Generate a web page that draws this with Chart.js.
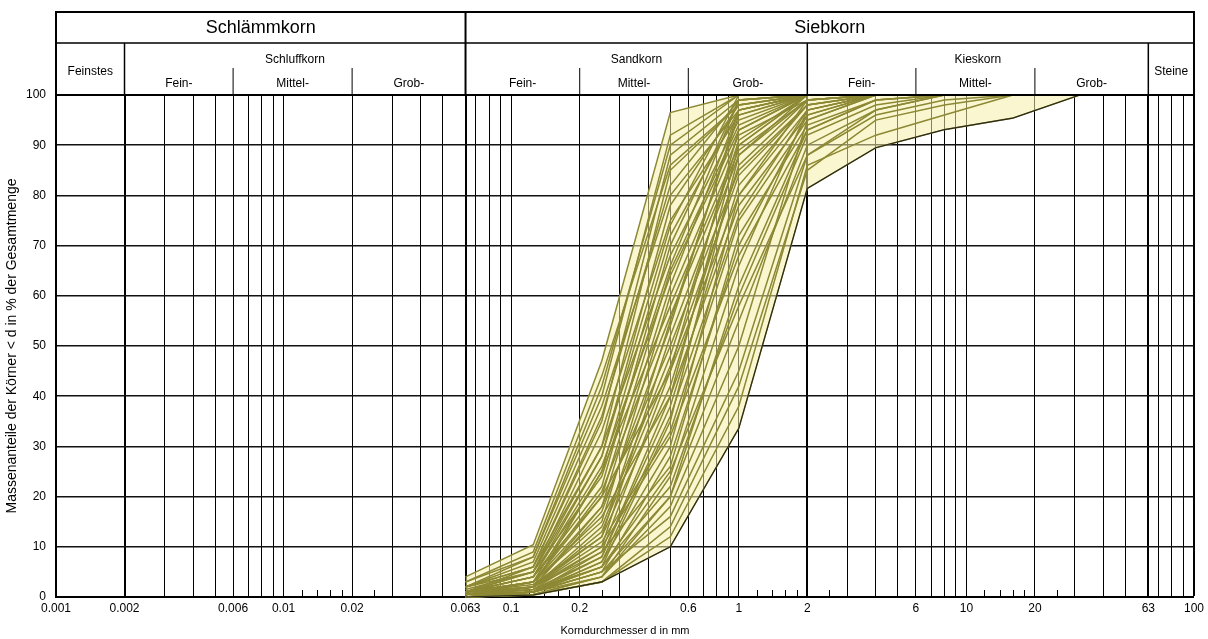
<!DOCTYPE html>
<html>
<head>
<meta charset="utf-8">
<script src="https://cdn.jsdelivr.net/npm/chart.js@4.4.1/dist/chart.umd.min.js"></script>
<style>
  html, body { margin: 0; padding: 0; background: #fff; }
  #wrap { width: 1208px; height: 639px; }
</style>
</head>
<body>
<div id="wrap"><canvas id="chart" width="1208" height="639"></canvas></div>
<script>
// sieve openings in mm
const sieves = [0.063, 0.125, 0.25, 0.5, 1, 2, 4, 8, 16, 31.5];

// passing values in % per sample
const fineSand = [
  [3, 8, 40, 92, 100, 100, 100, 100],
  [2, 6, 35, 88, 99, 100, 100, 100],
  [4, 10.4, 47, 96.5, 100, 100, 100, 100],
  [1, 5, 30, 85, 98, 100, 100, 100],
  [2, 7, 38, 80, 97, 100, 100, 100],
  [1, 4, 28, 78, 98, 100, 100, 100],
  [1.5, 5, 33, 75, 96, 100, 100, 100],
  [0.5, 3, 25, 72, 97, 100, 100, 100],
  [1, 4, 22, 70, 99, 100, 100, 100],
  [2, 6, 30, 68, 95, 100, 100, 100],
  [2, 8, 42, 90, 100, 100, 100, 100],
  [1, 6, 36, 82, 99, 100, 100, 100],
  [3, 9, 44, 86, 98, 100, 100, 100],
  [1, 5, 28, 74, 100, 100, 100, 100],
];

const mediumSand = [
  [1, 3, 20, 65, 94, 100, 100, 100],
  [0.5, 2, 18, 62, 97, 100, 100, 100],
  [1, 3, 15, 60, 92, 99, 100, 100],
  [0.5, 2, 25, 58, 90, 100, 100, 100],
  [1, 2.5, 12, 55, 96, 100, 100, 100],
  [0.5, 1.5, 10, 52, 88, 99, 100, 100],
  [1, 3, 18, 50, 85, 98, 100, 100],
  [0.5, 2, 14, 48, 91, 100, 100, 100],
  [1, 4, 20, 45, 80, 97, 100, 100],
  [0, 1, 9, 45, 93, 100, 100, 100],
  [0.5, 2, 12, 42, 86, 99, 100, 100],
  [1, 4, 26, 64, 93, 100, 100, 100],
  [0.5, 3, 21, 56, 89, 99, 100, 100],
  [1, 2, 13, 46, 84, 98, 100, 100],
  [0.5, 2, 17, 54, 97, 100, 100, 100],
  [2, 5, 24, 66, 99, 100, 100, 100],
  [0, 1, 8, 40, 90, 100, 100, 100],
];

const coarseSand = [
  [1, 3, 16, 40, 78, 96, 100, 100],
  [0.5, 1.5, 8, 38, 82, 98, 100, 100],
  [0, 1, 6, 35, 88, 100, 100, 100],
  [1, 2, 11, 33, 75, 95, 100, 100],
  [0.5, 1, 7, 30, 80, 99, 100, 100],
  [0, 1, 5, 28, 70, 96, 100, 100],
  [1, 2, 9, 26, 72, 94, 99, 100],
  [0, 0.5, 4, 24, 66, 97, 100, 100],
  [0.5, 1.5, 6, 22, 60, 92, 98, 100],
  [0, 1, 7, 36, 76, 97, 100, 100],
  [0.5, 2, 10, 32, 68, 93, 99, 100],
  [0, 1, 4, 20, 62, 93, 99, 100],
];

const gravellySand = [
  [0, 1, 5, 20, 55, 90, 97, 100, 100],
  [0, 0.5, 4, 18, 50, 95, 100, 100, 100],
  [0.5, 1, 5, 16, 45, 88, 96, 99, 100],
  [0, 0.5, 3, 14, 42, 85, 95, 98, 100],
  [0, 0.4, 3, 12, 38, 86, 92, 96, 100],
  [0.5, 1, 6, 25, 58, 88, 97, 100, 100],
  [0, 0.4, 3, 10, 33.6, 81.4, 89.5, 93.1, 95.4, 100],
];

// x axis: full grid lines, thick dividers, short ticks at the bottom, labelled values
const gridValues = [0.001, 0.002, 0.003, 0.004, 0.005, 0.006, 0.007, 0.008, 0.009, 0.01,
  0.02, 0.03, 0.04, 0.05, 0.063, 0.07, 0.08, 0.09, 0.1, 0.2, 0.3, 0.4, 0.5, 0.6, 0.7, 0.8,
  0.9, 1, 2, 3, 4, 5, 6, 7, 8, 9, 10, 20, 30, 40, 50, 63, 70, 80, 90, 100];
const thickValues = [0.002, 0.063, 2, 63, 100];
const shortTicks = [0.012, 0.014, 0.016, 0.018, 0.025, 0.12, 0.14, 0.16, 0.18, 0.25,
  1.2, 1.4, 1.6, 1.8, 2.5, 12, 14, 16, 18, 25];
const tickLabels = [0.001, 0.002, 0.006, 0.01, 0.02, 0.063, 0.1, 0.2, 0.6, 1, 2, 6, 10, 20, 63, 100];

// header rows
const mainGroups = [
  { text: 'Schlämmkorn', from: 0.001, to: 0.063 },
  { text: 'Siebkorn', from: 0.063, to: 100 },
];
const soilGroups = [
  { text: 'Feinstes', from: 0.001, to: 0.002, single: true },
  { text: 'Schluffkorn', from: 0.002, to: 0.063 },
  { text: 'Sandkorn', from: 0.063, to: 2 },
  { text: 'Kieskorn', from: 2, to: 63 },
  { text: 'Steine', from: 63, to: 100, single: true },
];
const subBounds = [
  [0.002, 0.006, 0.02, 0.063],
  [0.063, 0.2, 0.6, 2],
  [2, 6, 20, 63],
];
const subNames = ['Fein-', 'Mittel-', 'Grob-'];

const FONT = '"Liberation Sans", Arial, sans-serif';
Chart.defaults.font.family = FONT;
Chart.defaults.color = '#000';

const curves = [...fineSand, ...mediumSand, ...coarseSand, ...gravellySand];
const lineColor = 'rgb(140,136,52)';

const datasets = curves.map((c) => ({
  data: c.map((y, i) => ({ x: sieves[i], y })),
  borderColor: lineColor,
  borderWidth: 1.5,
  pointRadius: 0,
  tension: 0,
  fill: false,
  clip: false,
}));

// envelope of all samples, filled light yellow
const upper = sieves.map((s, i) => Math.max(...curves.filter((c) => c.length > i).map((c) => c[i])));
const lower = sieves.map((s, i) => Math.min(...curves.filter((c) => c.length > i).map((c) => c[i])));
const upperIndex = datasets.length;
datasets.push({
  data: upper.map((y, i) => ({ x: sieves[i], y })),
  borderWidth: 0,
  borderColor: 'rgba(0,0,0,0)',
  pointRadius: 0,
  fill: false,
  clip: false,
  order: 1,
});
datasets.push({
  data: lower.map((y, i) => ({ x: sieves[i], y })),
  borderColor: '#2a2a1a',
  borderWidth: 1.2,
  pointRadius: 0,
  backgroundColor: 'rgba(245,240,170,0.55)',
  fill: upperIndex,
  clip: false,
  order: -1,
});

const shortTickPlugin = {
  id: 'shortTicks',
  beforeDatasetsDraw(chart) {
    const { ctx, chartArea } = chart;
    const x = chart.scales.x;
    ctx.save();
    ctx.strokeStyle = '#000';
    ctx.lineWidth = 1;
    shortTicks.forEach((v) => {
      const px = Math.round(x.getPixelForValue(v)) + 0.5;
      ctx.beginPath();
      ctx.moveTo(px, chartArea.bottom);
      ctx.lineTo(px, chartArea.bottom - 7);
      ctx.stroke();
    });
    ctx.restore();
  },
};

const headerPlugin = {
  id: 'header',
  afterDraw(chart) {
    const { ctx, chartArea } = chart;
    const x = chart.scales.x;
    const px = (v) => x.getPixelForValue(v);
    const top = 12;
    const mid = 43;
    const subTop = 68;
    const bottom = chartArea.top;

    ctx.save();
    ctx.strokeStyle = '#000';

    ctx.lineWidth = 2;
    ctx.strokeRect(px(0.001), top, px(100) - px(0.001), bottom - top);
    ctx.beginPath();
    ctx.moveTo(px(0.063), top);
    ctx.lineTo(px(0.063), bottom);
    ctx.stroke();

    ctx.lineWidth = 1.5;
    ctx.beginPath();
    ctx.moveTo(px(0.001), mid);
    ctx.lineTo(px(100), mid);
    [0.002, 2, 63].forEach((v) => {
      ctx.moveTo(px(v), mid);
      ctx.lineTo(px(v), bottom);
    });
    ctx.stroke();

    ctx.lineWidth = 1;
    ctx.beginPath();
    [0.006, 0.02, 0.2, 0.6, 6, 20].forEach((v) => {
      ctx.moveTo(px(v), subTop);
      ctx.lineTo(px(v), bottom);
    });
    ctx.stroke();

    ctx.fillStyle = '#000';
    ctx.textAlign = 'center';
    ctx.textBaseline = 'middle';

    ctx.font = '18px ' + FONT;
    mainGroups.forEach((g) => {
      ctx.fillText(g.text, (px(g.from) + px(g.to)) / 2, 28);
    });

    ctx.font = '12px ' + FONT;
    soilGroups.forEach((g) => {
      ctx.fillText(g.text, (px(g.from) + px(g.to)) / 2, g.single ? 72 : 60);
    });
    subBounds.forEach((b) => {
      subNames.forEach((name, k) => {
        ctx.fillText(name, (px(b[k]) + px(b[k + 1])) / 2, 84);
      });
    });
    ctx.restore();
  },
};

new Chart(document.getElementById('chart'), {
  type: 'line',
  data: { datasets },
  plugins: [shortTickPlugin, headerPlugin],
  options: {
    responsive: false,
    animation: false,
    layout: { padding: { left: 0, right: 12, top: 95, bottom: 0 } },
    plugins: {
      legend: { display: false },
      tooltip: { enabled: false },
      filler: { drawTime: 'beforeDatasetsDraw' },
    },
    scales: {
      x: {
        type: 'logarithmic',
        min: 0.001,
        max: 100,
        afterBuildTicks(scale) {
          scale.ticks = gridValues.map((v) => ({ value: v }));
        },
        afterFit(scale) {
          scale.height = 42;
        },
        ticks: {
          autoSkip: false,
          maxRotation: 0,
          minRotation: 0,
          padding: 4,
          font: { size: 12 },
          callback: (v) => (tickLabels.includes(v) ? String(v) : ''),
        },
        grid: {
          drawTicks: false,
          color: '#000',
          lineWidth: (ctx) => (ctx.tick && thickValues.includes(ctx.tick.value) ? 2 : 1),
        },
        border: { display: true, color: '#000', width: 2 },
        title: {
          display: true,
          text: 'Korndurchmesser d in mm',
          font: { size: 11 },
          padding: { top: 0, bottom: 1 },
        },
      },
      y: {
        type: 'linear',
        min: 0,
        max: 100,
        afterFit(scale) {
          scale.width = 56;
        },
        ticks: { stepSize: 10, padding: 10, font: { size: 12 } },
        grid: {
          drawTicks: false,
          color: '#111',
          lineWidth: (ctx) => (ctx.tick && ctx.tick.value === 100 ? 2 : 1.6),
        },
        border: { display: true, color: '#000', width: 2 },
        title: {
          display: true,
          text: 'Massenanteile der Körner < d in % der Gesamtmenge',
          font: { size: 14 },
          padding: { top: 4, bottom: 0 },
        },
      },
    },
  },
});
</script>
</body>
</html>
